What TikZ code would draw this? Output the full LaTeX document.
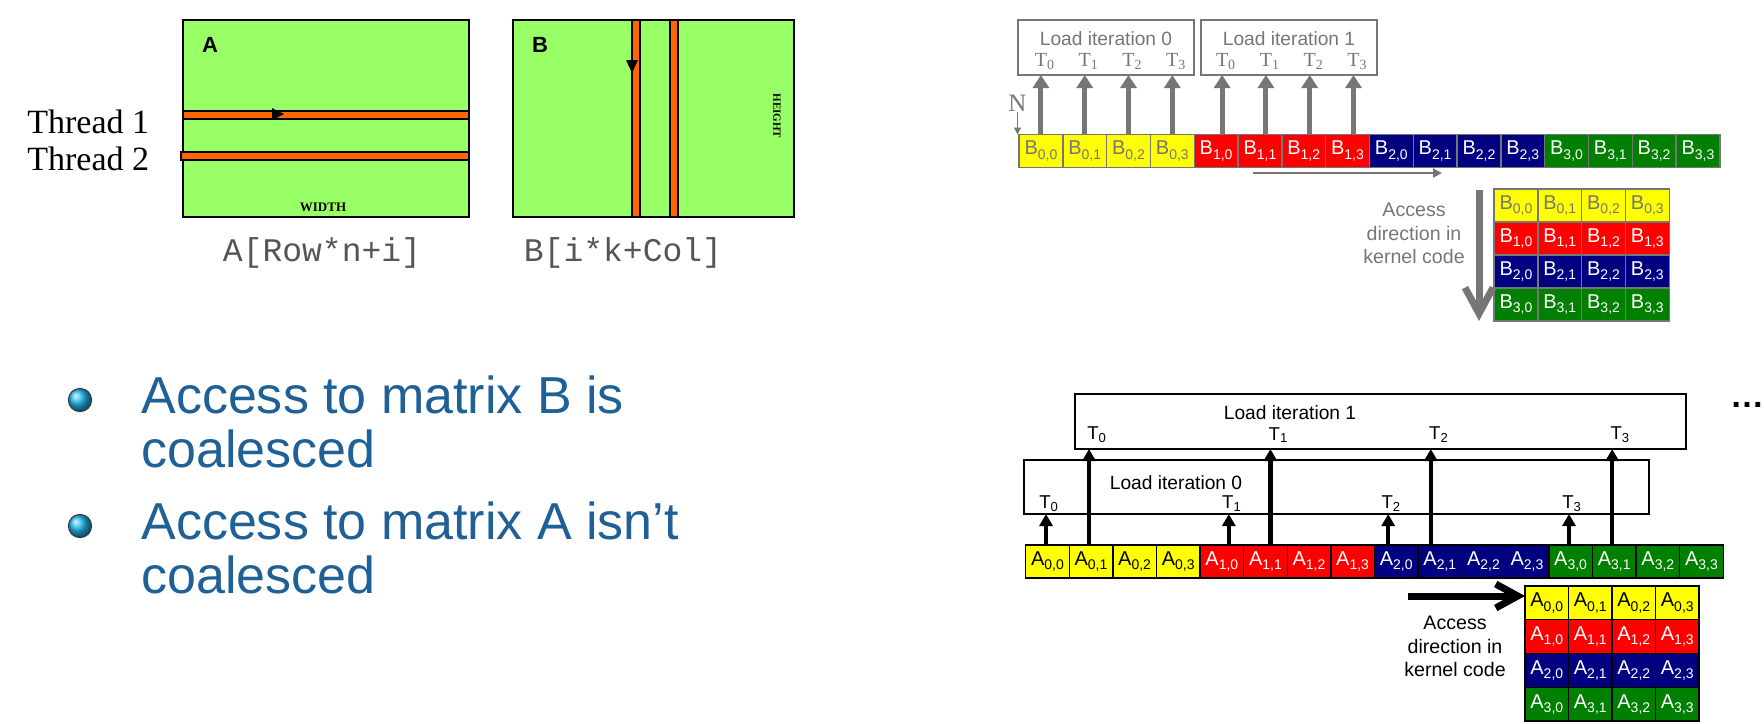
\documentclass[tikz,border=0pt]{standalone}
\usepackage{fontspec}
\setmainfont{Liberation Sans}
\newfontfamily\serifff{Liberation Serif}
\newfontfamily\monoff{Liberation Mono}
\usetikzlibrary{arrows.meta}
\definecolor{lgreen}{RGB}{153,255,102}
\definecolor{orng}{RGB}{255,102,0}
\definecolor{cyel}{RGB}{255,255,0}
\definecolor{cred}{RGB}{255,0,0}
\definecolor{cnavy}{RGB}{0,0,128}
\definecolor{cgrn}{RGB}{0,128,0}
\definecolor{gry}{RGB}{118,118,118}
\definecolor{bluetxt}{RGB}{31,96,150}
\definecolor{balls}{RGB}{30,185,240}
\definecolor{monotxt}{RGB}{85,85,85}
\newcommand\sbx[1]{\raisebox{-0.4ex}{\fontsize{7}{8}\selectfont#1}}
\begin{document}
\begin{tikzpicture}[x=0.5pt,y=-0.5pt,
  mbox/.style={draw=black,line width=1pt,fill=lgreen,inner sep=0pt,outer sep=0pt,anchor=north west},
  stripe/.style={draw=black,line width=0.7pt,fill=orng},
  bcell/.style={draw=gry,line width=0.7pt,inner sep=0pt,outer sep=0pt,minimum width=21.9pt,minimum height=16.5pt,font=\fontsize{10}{11}\selectfont},
  acell/.style={draw=black,line width=0.7pt,inner sep=0pt,outer sep=0pt,minimum width=21.8pt,minimum height=16.5pt,font=\fontsize{10}{11}\selectfont},
  lboxg/.style={draw=gry,line width=1pt,inner sep=0pt,outer sep=0pt,anchor=north west},
  lboxk/.style={draw=black,line width=0.75pt,inner sep=0pt,outer sep=0pt,anchor=north west},
  garr/.style={draw=gry,line width=2.5pt,-{Triangle[length=6.5pt,width=8pt]}},
  karr/.style={draw=black,line width=2.2pt,-{Triangle[length=6pt,width=6.5pt]}},
  lbltxt/.style={font=\fontsize{9.6}{11}\selectfont,inner sep=0pt},
  tg/.style={font=\serifff\fontsize{10}{11}\selectfont,text=gry,inner sep=0pt},
  tk/.style={font=\fontsize{9.3}{11}\selectfont,inner sep=0pt},
  bultxt/.style={font=\fontsize{26}{27}\selectfont,text=bluetxt,anchor=base west,inner sep=0pt},
  thr/.style={font=\serifff\fontsize{17}{18}\selectfont,anchor=base west,inner sep=0pt},
  capt/.style={font=\monoff\fontsize{16.5}{18}\selectfont,text=monotxt,inner sep=0pt},
  acc/.style={font=\fontsize{9.8}{11.65}\selectfont,align=center,inner sep=0pt},
]
\useasboundingbox (0,0) rectangle (1764,723);

% ---------------- left: matrices A and B
\node[mbox,minimum width=143pt,minimum height=98.5pt] (ma) at (183,20) {};
\node[mbox,minimum width=140.5pt,minimum height=98.5pt] (mb) at (513,20) {};
\draw[stripe] (183,111) rectangle (469,119);
\draw[stripe] (181,152) rectangle (469,160);
\draw[stripe] (632,20) rectangle (640,217);
\draw[stripe] (670,20) rectangle (678,217);
\fill[black] (272,108) -- (284,114) -- (272,120) -- cycle;
\fill[black] (626,60) -- (638,60) -- (632,73) -- cycle;
\node[font=\bfseries\fontsize{11}{12}\selectfont,inner sep=0pt] (la) at (210,45) {A};
\node[font=\bfseries\fontsize{11}{12}\selectfont,inner sep=0pt] (lb) at (540,45) {B};
\node[font=\serifff\bfseries\fontsize{6.5}{7}\selectfont,inner sep=0pt] (wid) at (323,207) {WIDTH};
\node[rotate=-90,font=\serifff\bfseries\fontsize{5.5}{6}\selectfont,inner sep=0pt] (hgt) at (777,116) {HEIGHT};
\node[thr] (t1) at (27,133) {Thread 1};
\node[thr] (t2) at (27,170) {Thread 2};
\node[capt] (ca) at (322,253) {A[Row*n+i]};
\node[capt] (cb) at (623,253) {B[i*k+Col]};

% ---------------- bullets
\shadedraw[ball color=balls,draw=black!80,line width=0.5pt] (80,400) circle[radius=5.8pt];
\shadedraw[ball color=balls,draw=black!80,line width=0.5pt] (80,526) circle[radius=5.8pt];
\node[bultxt] (b1a) at (141,413) {Access to matrix B is};
\node[bultxt] (b1b) at (141,467) {coalesced};
\node[bultxt] (b2a) at (141,539) {Access to matrix A isn’t};
\node[bultxt] (b2b) at (141,593) {coalesced};

% ---------------- top right: B row and grid
\foreach \i/\fc/\tc in {0/cyel/gry,1/cred/white,2/cnavy/white,3/cgrn/white}{
  \foreach \j in {0,1,2,3}{
    \pgfmathsetmacro\xx{1040.9+43.8*(4*\i+\j)}
    \node[bcell,fill=\fc,text=\tc] (rb\i\j) at (\xx,151) {B\sbx{\i,\j}};
    \pgfmathsetmacro\gx{1515.9+43.8*\j}
    \pgfmathsetmacro\gy{205.5+33*\i}
    \node[bcell,fill=\fc,text=\tc] (gb\i\j) at (\gx,\gy) {B\sbx{\i,\j}};
  }
}
\node[lboxg,minimum width=88pt,minimum height=27.5pt] (lg0) at (1018,20) {};
\node[lboxg,minimum width=88pt,minimum height=27.5pt] (lg1) at (1201,20) {};
\node[lbltxt,text=gry] (lgt0) at (1106,38.5) {Load iteration 0};
\node[lbltxt,text=gry] (lgt1) at (1289,38.5) {Load iteration 1};
% arrows iteration 0
\foreach \j in {0,1,2,3}{
  \draw[garr] (rb0\j.north) -- (rb0\j.north |- lg0.south);
  \node[tg] at ([yshift=6.75pt]rb0\j.north |- lg0.south) {T\rlap{\textsubscript{\j}}};
}
% arrows iteration 1
\foreach \j in {0,1,2,3}{
  \coordinate (q\j) at ([xshift=3pt]rb1\j.north);
  \draw[garr] (q\j) -- (q\j |- lg1.south);
  \node[tg] at ([yshift=6.75pt]q\j |- lg1.south) {T\rlap{\textsubscript{\j}}};
}
\node[font=\serifff\fontsize{12.5}{13}\selectfont,text=gry,inner sep=0pt] (nlab) at (1017.5,103) {N};
\draw[gry,line width=0.6pt,-{Triangle[length=3.5pt,width=3.5pt]}] (nlab.south) -- (nlab.south |- rb00.north);
\coordinate (ha0) at (1253,173);
\coordinate (ha1) at (1442,173);
\draw[gry,line width=1.2pt,-{Triangle[length=4.5pt,width=4.5pt]}] (ha0) -- (ha1);
\node[acc,text=gry] (accb) at (1414,233.5) {Access\\direction in\\kernel code};
\coordinate (va0) at (1479,190);
\coordinate (va1) at (1479,321);
\draw[gry,line width=3.5pt,-{Straight Barb[length=13pt,width=14pt]}] (va0) -- (va1);

% ---------------- bottom right: A row and grid
\foreach \i/\fc/\tc in {0/cyel/black,1/cred/white,2/cnavy/white,3/cgrn/white}{
  \foreach \j in {0,1,2,3}{
    \pgfmathsetmacro\xx{1047.4+43.6*(4*\i+\j)}
    \node[acell,fill=\fc,text=\tc] (ra\i\j) at (\xx,561.5) {A\sbx{\i,\j}};
    \pgfmathsetmacro\gx{1546.75+43.5*\j}
    \pgfmathsetmacro\gy{602.9+33.75*\i}
    \node[acell,minimum width=21.75pt,minimum height=16.9pt,fill=\fc,text=\tc] (ga\i\j) at (\gx,\gy) {A\sbx{\i,\j}};
  }
}
\node[lboxk,minimum width=305.5pt,minimum height=27.5pt] (lk1) at (1075,394) {};
\node[lboxk,minimum width=312.5pt,minimum height=27pt] (lk0) at (1024,460) {};
\node[lbltxt] (lkt1) at (1290,413) {Load iteration 1};
\node[lbltxt] (lkt0) at (1176,483) {Load iteration 0};
% iteration 0 arrows (short)
\foreach \c/\s in {ra00/-0.7pt,ra10/3.5pt,ra20/-4pt,ra30/-0.8pt}{
  \coordinate (p\c) at ([xshift=\s]\c.north);
}
\foreach \c/\k in {ra00/0,ra10/1,ra20/2,ra30/3}{
  \draw[karr] (p\c) -- (p\c |- lk0.south);
  \node[tk] at ([xshift=-0.5pt,yshift=5.25pt]p\c |- lk0.south) {T\rlap{\textsubscript{\k}}};
}
% iteration 1 arrows (long)
\foreach \c/\s in {ra01/-1pt,ra11/2.5pt,ra21/-4.5pt,ra31/-1pt}{
  \coordinate (p\c) at ([xshift=\s]\c.north);
}
\foreach \c/\k in {ra01/0,ra11/1,ra21/2,ra31/3}{
  \draw[karr] (p\c) -- (p\c |- lk1.south);
  \node[tk] at ([xshift=2pt,yshift=7pt]p\c |- lk1.south) {T\rlap{\textsubscript{\k}}};
}
\node[acc] (acca) at (1455,646.5) {Access\\direction in\\kernel code};
\coordinate (hb0) at (1408,596);
\draw[black,line width=3.5pt,-{Straight Barb[length=11pt,width=12pt]}] (hb0) -- (hb0 -| ga00.west);
\node[font=\bfseries\fontsize{17}{18}\selectfont,inner sep=0pt] (dots) at (1747,405) {…};
\end{tikzpicture}
\end{document}
